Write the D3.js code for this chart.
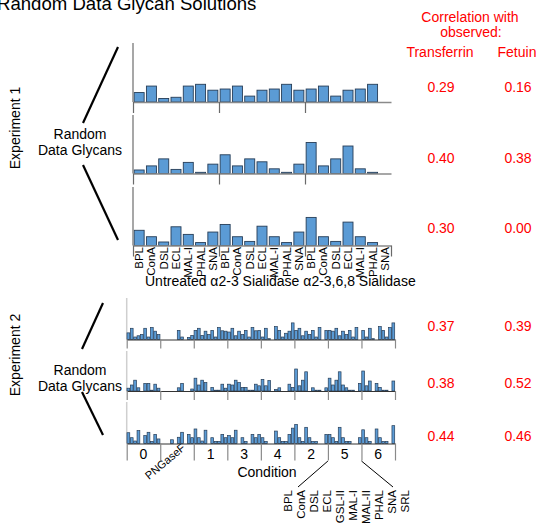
<!DOCTYPE html>
<html>
<head>
<meta charset="utf-8">
<script src="https://cdn.jsdelivr.net/npm/d3@7"></script>
<style>
  body { margin: 0; background: #fff; }
  text { font-family: "Liberation Sans", Arial, sans-serif; }
</style>
</head>
<body>
<svg id="chart" width="539" height="523"></svg>
<script>
// ---- Experiment 1: 3 treatments x 7 lectins, three random glycan solutions ----
const exp1Lectins = ["BPL", "ConA", "DSL", "ECL", "MAL-I", "PHAL", "SNA"];
const exp1Treatments = ["Untreated", "α2-3 Sialidase", "α2-3,6,8 Sialidase"];
const exp1Run1 = [16, 27, 6, 8, 27, 30, 20,  22, 27, 10, 20, 22, 30, 20,  22, 27, 10, 20, 22, 30, 0];
const exp1Run2 = [6, 13, 25, 7, 19, 2, 16,   32, 13, 25, 20, 8, 2, 16,    53, 13, 25, 47, 8, 2, 0];
const exp1Run3 = [26, 15, 6, 32, 19, 5, 23,  36, 15, 7, 33, 15, 5, 23,    48, 15, 7, 40, 15, 5, 0];
const exp1CorrTransferrin = ["0.29", "0.40", "0.30"];
const exp1CorrFetuin = ["0.16", "0.38", "0.00"];

// ---- Experiment 2: 8 conditions x 10 lectins ----
const exp2Conditions = ["0", "PNGaseF", "1", "3", "4", "2", "5", "6"];
const exp2Lectins = ["BPL", "ConA", "DSL", "ECL", "GSL-II", "MAL-I", "MAL-II", "PHAL", "SNA", "SRL"];
const exp2Run1 = [
  16, 27, 6, 9, 12, 27, 6, 29, 20, 12,
  0, 0, 0, 0, 0, 22, 6, 0, 5, 10,
  22, 27, 10, 20, 12, 22, 6, 29, 21, 20,
  18, 27, 9, 20, 12, 22, 6, 29, 21, 22,
  6, 27, 2, 0, 31, 22, 6, 15, 20, 40,
  22, 27, 9, 20, 12, 22, 6, 29, 0, 22,
  22, 20, 27, 9, 20, 12, 22, 6, 29, 0,
  22, 6, 27, 2, 0, 31, 22, 6, 29, 40
];
const exp2Run2 = [
  7, 15, 27, 8, 0, 19, 19, 2, 17, 7,
  0, 0, 0, 0, 0, 8, 19, 0, 0, 5,
  32, 15, 27, 21, 0, 9, 2, 2, 17, 7,
  17, 15, 27, 21, 9, 9, 2, 2, 17, 13,
  29, 13, 26, 0, 4, 8, 0, 0, 17, 9,
  55, 13, 27, 48, 0, 8, 2, 2, 0, 8,
  32, 15, 27, 48, 15, 8, 2, 2, 0, 19,
  50, 13, 25, 0, 19, 9, 2, 2, 0, 25
];
const exp2Run3 = [
  26, 14, 6, 31, 0, 19, 27, 5, 22, 11,
  0, 0, 0, 9, 0, 15, 27, 0, 22, 14,
  35, 14, 6, 32, 0, 14, 5, 5, 22, 14,
  19, 14, 32, 0, 14, 5, 0, 22, 14, 22,
  14, 5, 0, 0, 30, 14, 5, 5, 22, 37,
  46, 14, 5, 39, 14, 5, 5, 0, 0, 22,
  22, 14, 5, 39, 14, 5, 5, 0, 0, 14,
  33, 14, 5, 0, 35, 14, 5, 5, 0, 43
];
const exp2CorrTransferrin = ["0.37", "0.38", "0.44"];
const exp2CorrFetuin = ["0.39", "0.52", "0.46"];

const svg = d3.select("#chart");
const BAR_FILL = "#5b9bd5";
const BAR_STROKE = "#263d57";
const RED = "#ff0000";

// Title (runs off the top edge of the canvas)
svg.append("text").attr("x", -3).attr("y", 10)
  .attr("font-size", 18.6).attr("fill", "#000")
  .text("Random Data Glycan Solutions");

// Correlation header
const hdr = svg.append("g").attr("fill", RED).attr("font-size", 14).attr("text-anchor", "middle");
hdr.append("text").attr("x", 470).attr("y", 22).text("Correlation with");
hdr.append("text").attr("x", 471).attr("y", 37).text("observed:");
hdr.append("text").attr("x", 440).attr("y", 57).text("Transferrin");
hdr.append("text").attr("x", 517).attr("y", 57).text("Fetuin");

// ---------------- Experiment 1 ----------------
const e1Keys = exp1Treatments.flatMap(t => exp1Lectins.map(l => t + "|" + l));
const e1Left = 133, e1Right = 391;
const x1 = d3.scaleBand().domain(e1Keys).range([e1Left, e1Right])
  .paddingInner(0.186).paddingOuter(0.093);
const g1 = d3.scaleLinear().domain([0, exp1Treatments.length]).range([e1Left, e1Right]);

const e1Panels = [
  { data: exp1Run1, top: 43, base: 102, tr: exp1CorrTransferrin[0], fe: exp1CorrFetuin[0], ty: 92 },
  { data: exp1Run2, top: 115, base: 173.5, tr: exp1CorrTransferrin[1], fe: exp1CorrFetuin[1], ty: 163 },
  { data: exp1Run3, top: 187, base: 245.5, tr: exp1CorrTransferrin[2], fe: exp1CorrFetuin[2], ty: 233 }
];

e1Panels.forEach((p, pi) => {
  const y = d3.scaleLinear().domain([0, 100]).range([p.base, p.top]);
  const g = svg.append("g");
  g.selectAll("rect").data(p.data).join("rect")
    .attr("x", (d, i) => x1(e1Keys[i]))
    .attr("width", x1.bandwidth())
    .attr("y", d => y(d))
    .attr("height", d => p.base - y(d))
    .attr("fill", BAR_FILL).attr("stroke", BAR_STROKE).attr("stroke-width", 0.9)
    .attr("display", d => d > 0 ? null : "none");
  // vertical axis line
  g.append("line").attr("x1", e1Left).attr("x2", e1Left).attr("y1", p.top).attr("y2", p.base)
    .attr("stroke", "#8a8a8a").attr("stroke-width", 1.5);
  // group axis along the baseline
  const last = pi === e1Panels.length - 1;
  const ax = d3.axisBottom(g1).tickValues(last ? [0, 1, 2, 3] : [0, 1, 2])
    .tickSize(11).tickSizeOuter(0).tickFormat("");
  const a = svg.append("g").attr("transform", `translate(0,${p.base})`).call(ax);
  a.select(".domain").attr("stroke", "#8a8a8a").attr("stroke-width", 1.3);
  a.selectAll(".tick line").attr("stroke", "#6a6a6a").attr("stroke-width", 1.2);
  // correlations
  svg.append("text").attr("x", 441).attr("y", p.ty).attr("fill", RED).attr("font-size", 14)
    .attr("text-anchor", "middle").text(p.tr);
  svg.append("text").attr("x", 518).attr("y", p.ty).attr("fill", RED).attr("font-size", 14)
    .attr("text-anchor", "middle").text(p.fe);
});

// lectin labels under experiment 1
svg.append("g").selectAll("text").data(e1Keys).join("text")
  .attr("transform", d => `translate(${x1(d) + x1.bandwidth() / 2 + 4},247) rotate(-90)`)
  .attr("text-anchor", "end").attr("font-size", 11.5)
  .text(d => d.split("|")[1]);

svg.append("text").attr("x", 145).attr("y", 286).attr("font-size", 14)
  .text(exp1Treatments.join(" "));

// ---------------- Experiment 2 ----------------
const e2Keys = exp2Conditions.flatMap(c => exp2Lectins.map(l => c + "|" + l));
const e2Left = 126.7, e2Right = 395;
const x2 = d3.scaleBand().domain(e2Keys).range([e2Left, e2Right])
  .paddingInner(0.18).paddingOuter(0.09);
const g2 = d3.scaleLinear().domain([0, exp2Conditions.length]).range([e2Left, e2Right]);

const e2Panels = [
  { data: exp2Run1, top: 298, base: 339.5, tr: exp2CorrTransferrin[0], fe: exp2CorrFetuin[0], ty: 331 },
  { data: exp2Run2, top: 351, base: 391, tr: exp2CorrTransferrin[1], fe: exp2CorrFetuin[1], ty: 388 },
  { data: exp2Run3, top: 402, base: 443.5, tr: exp2CorrTransferrin[2], fe: exp2CorrFetuin[2], ty: 441 }
];

e2Panels.forEach((p, pi) => {
  const y = d3.scaleLinear().domain([0, 100]).range([p.base, p.top]);
  const g = svg.append("g");
  g.append("line").attr("x1", e2Left).attr("x2", e2Left).attr("y1", p.top).attr("y2", p.base)
    .attr("stroke", "#cfcfcf").attr("stroke-width", 1.5);
  g.selectAll("rect").data(p.data).join("rect")
    .attr("x", (d, i) => x2(e2Keys[i]))
    .attr("width", x2.bandwidth())
    .attr("y", d => y(d))
    .attr("height", d => p.base - y(d))
    .attr("fill", BAR_FILL).attr("stroke", BAR_STROKE).attr("stroke-width", 0.7)
    .attr("display", d => d > 0 ? null : "none");
  const last = pi === e2Panels.length - 1;
  const ax = d3.axisBottom(g2).tickValues(d3.range(exp2Conditions.length + 1))
    .tickSize(last ? 17 : 9).tickSizeOuter(0).tickFormat("");
  const a = svg.append("g").attr("transform", `translate(0,${p.base})`).call(ax);
  a.select(".domain").attr("stroke", "#333").attr("stroke-width", 1.2);
  a.selectAll(".tick line").attr("stroke", "#8a8a8a").attr("stroke-width", 1.2);
  svg.append("text").attr("x", 441).attr("y", p.ty).attr("fill", RED).attr("font-size", 14)
    .attr("text-anchor", "middle").text(p.tr);
  svg.append("text").attr("x", 518).attr("y", p.ty).attr("fill", RED).attr("font-size", 14)
    .attr("text-anchor", "middle").text(p.fe);
});

// condition labels
const condG = svg.append("g").attr("font-size", 14);
exp2Conditions.forEach((c, i) => {
  const cx = (g2(i) + g2(i + 1)) / 2;
  if (c === "PNGaseF") {
    condG.append("text").attr("transform", `translate(${cx + 9},449) rotate(-40)`)
      .attr("text-anchor", "end").attr("font-size", 11).text(c);
  } else {
    condG.append("text").attr("x", cx).attr("y", 459).attr("text-anchor", "middle").text(c);
  }
});
svg.append("text").attr("x", 267).attr("y", 477).attr("font-size", 14)
  .attr("text-anchor", "middle").text("Condition");

// expansion of condition "5" into its lectins
const c5 = exp2Conditions.indexOf("5");
svg.append("line").attr("x1", g2(c5)).attr("y1", 461).attr("x2", 298).attr("y2", 487)
  .attr("stroke", "#000").attr("stroke-width", 1);
svg.append("line").attr("x1", g2(c5 + 1)).attr("y1", 461).attr("x2", 393).attr("y2", 487)
  .attr("stroke", "#000").attr("stroke-width", 1);
const lx = d3.scalePoint().domain(exp2Lectins).range([288, 405]);
svg.append("g").selectAll("text").data(exp2Lectins).join("text")
  .attr("transform", d => `translate(${lx(d) + 4},490) rotate(-90)`)
  .attr("text-anchor", "end").attr("font-size", 11.5).text(d => d);

// ---------------- left annotations ----------------
function sideLabel(cy, name, yRandom, lines) {
  svg.append("text").attr("transform", `translate(20,${cy}) rotate(-90)`)
    .attr("text-anchor", "middle").attr("font-size", 14).text(name);
  const t = svg.append("text").attr("x", 80).attr("y", yRandom).attr("font-size", 14)
    .attr("text-anchor", "middle");
  t.append("tspan").attr("x", 80).text("Random");
  t.append("tspan").attr("x", 80).attr("dy", 16).text("Data Glycans");
  lines.forEach(l => svg.append("line")
    .attr("x1", l[0]).attr("y1", l[1]).attr("x2", l[2]).attr("y2", l[3])
    .attr("stroke", "#000").attr("stroke-width", 2.2));
}
sideLabel(128, "Experiment 1", 139, [[118, 47, 83, 123], [83, 165, 118, 240]]);
sideLabel(355, "Experiment 2", 375, [[103, 303, 82, 349], [82, 392, 103, 435]]);
</script>
</body>
</html>
